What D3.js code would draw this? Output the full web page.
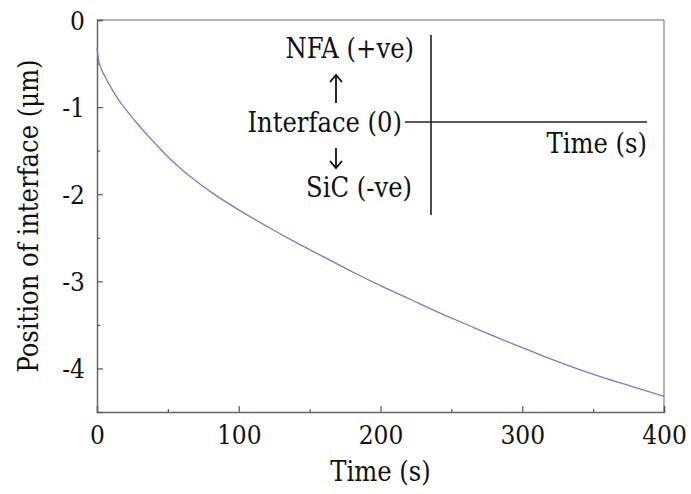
<!DOCTYPE html>
<html>
<head>
<meta charset="utf-8">
<script src="https://cdn.jsdelivr.net/npm/d3@7"></script>
<style>
  body { margin: 0; background: #fff; }
  svg text { font-stretch: condensed; }
</style>
</head>
<body>
<div id="chart"></div>
<script>
// Valores
const times = [0, 1, 3, 6, 10, 15, 20, 30, 40, 50, 60, 70, 80, 100, 120, 140, 160, 180, 200, 220, 240, 260, 280, 300, 320, 340, 360, 380, 400];
const positions = [-0.32, -0.45, -0.56, -0.66, -0.78, -0.91, -1.02, -1.22, -1.4, -1.57, -1.72, -1.85, -1.97, -2.18, -2.37, -2.55, -2.72, -2.89, -3.05, -3.2, -3.35, -3.49, -3.63, -3.76, -3.89, -4.01, -4.12, -4.22, -4.32];
const xTicks = [0, 100, 200, 300, 400];
const xMinor = [50, 150, 250, 350];
const yTicks = [0, -1, -2, -3, -4];
const yMinor = [-0.5, -1.5, -2.5, -3.5];

const serif = "'DejaVu Serif Condensed', 'DejaVu Serif', serif";

const width = 691, height = 494;
const margin = { top: 20, right: 27, bottom: 82, left: 97 };
const w = width - margin.left - margin.right;
const h = height - margin.top - margin.bottom;

const svg = d3.select("#chart").append("svg")
  .attr("width", width)
  .attr("height", height)
  .attr("font-family", serif);

const g = svg.append("g").attr("transform", `translate(${margin.left},${margin.top})`);

// Escalas
const x = d3.scaleLinear().domain([0, 400]).range([0, w]);
const y = d3.scaleLinear().domain([0, -4.5]).range([0, h]);

// Moldura superior e direita
g.append("line").attr("x1", 0).attr("x2", w).attr("y1", 0).attr("y2", 0)
  .attr("stroke", "#999").attr("stroke-width", 1.5);
g.append("line").attr("x1", w).attr("x2", w).attr("y1", 0).attr("y2", h)
  .attr("stroke", "#999").attr("stroke-width", 1.5);

// Eixo X
g.append("g")
  .attr("transform", `translate(0,${h})`)
  .call(d3.axisBottom(x).tickValues(xTicks).tickSize(-6).tickPadding(14).tickFormat(d3.format("d")));
g.append("g")
  .attr("transform", `translate(0,${h})`)
  .call(d3.axisBottom(x).tickValues(xMinor).tickSize(-3).tickFormat(""))
  .call((a) => a.select(".domain").remove());

// Eixo Y
const yAxis = g.append("g")
  .call(d3.axisLeft(y).tickValues(yTicks).tickSize(-6).tickPadding(12).tickFormat((d) => d === 0 ? "0" : "-" + Math.abs(d)));
g.append("g")
  .call(d3.axisLeft(y).tickValues(yMinor).tickSize(-3).tickFormat(""))
  .call((a) => a.select(".domain").remove());

g.selectAll("g").attr("font-family", serif);
g.selectAll(".domain").attr("stroke", "#666").attr("stroke-width", 1.5);
g.selectAll(".tick line").attr("stroke", "#555").attr("stroke-width", 1.2);
g.selectAll(".tick text")
  .attr("font-size", "26px")
  .attr("fill", "#111");
yAxis.selectAll(".tick text").attr("dy", "0.35em");

// Curva
const data = times.map((t, i) => ({ t: t, p: positions[i] }));
const line = d3.line()
  .x((d) => x(d.t))
  .y((d) => y(d.p))
  .curve(d3.curveMonotoneX);

g.append("path")
  .datum(data)
  .attr("fill", "none")
  .attr("stroke", "#7a7acc")
  .attr("stroke-width", 1.3)
  .attr("d", line);

// Títulos dos eixos
svg.append("text")
  .attr("x", margin.left + w / 2)
  .attr("y", 481)
  .attr("text-anchor", "middle")
  .attr("font-size", "27px")
  .attr("fill", "#111")
  .text("Time (s)");

svg.append("text")
  .attr("transform", `translate(38,${margin.top + h / 2}) rotate(-90)`)
  .attr("text-anchor", "middle")
  .attr("font-size", "27px")
  .attr("fill", "#111")
  .text("Position of interface (μm)");

// Diagrama de convenção de sinais
const inset = svg.append("g");
inset.append("line").attr("x1", 431).attr("x2", 431).attr("y1", 35).attr("y2", 215)
  .attr("stroke", "#111").attr("stroke-width", 1.5);
inset.append("line").attr("x1", 405).attr("x2", 647).attr("y1", 122).attr("y2", 122)
  .attr("stroke", "#222").attr("stroke-width", 1.5);

const insetText = [
  { label: "NFA (+ve)", x: 414, y: 58, anchor: "end" },
  { label: "Interface (0)", x: 402, y: 132, anchor: "end" },
  { label: "SiC (-ve)", x: 412, y: 197, anchor: "end" },
  { label: "Time (s)", x: 647, y: 153, anchor: "end" },
];
inset.selectAll(".lbl")
  .data(insetText)
  .enter()
  .append("text")
  .attr("class", "lbl")
  .attr("x", (d) => d.x)
  .attr("y", (d) => d.y)
  .attr("text-anchor", (d) => d.anchor)
  .attr("font-size", "27px")
  .attr("fill", "#111")
  .text((d) => d.label);

// Setas
const arrow = (y1, y2) => {
  inset.append("line").attr("x1", 336).attr("x2", 336).attr("y1", y1).attr("y2", y2)
    .attr("stroke", "#111").attr("stroke-width", 1.8);
  const dir = y2 < y1 ? 1 : -1;
  inset.append("path")
    .attr("d", `M${336 - 6},${y2 + dir * 7} L336,${y2} L${336 + 6},${y2 + dir * 7}`)
    .attr("fill", "none").attr("stroke", "#111").attr("stroke-width", 1.8);
};
arrow(103, 75);
arrow(148, 168);
</script>
</body>
</html>
